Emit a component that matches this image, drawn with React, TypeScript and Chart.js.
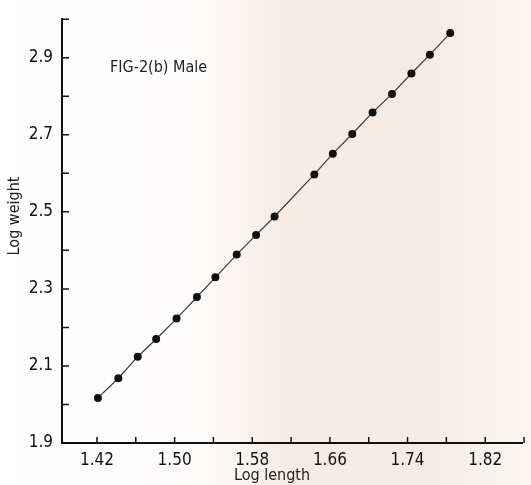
import React, { useEffect, useRef } from "react";
import { Chart, registerables } from "chart.js";

Chart.register(...registerables);

const logLength = [1.421, 1.442, 1.462, 1.481, 1.502, 1.523, 1.542, 1.564, 1.584, 1.603, 1.644, 1.663, 1.683, 1.704, 1.724, 1.744, 1.763, 1.784];
const logWeight = [2.017, 2.068, 2.124, 2.170, 2.223, 2.279, 2.330, 2.389, 2.440, 2.488, 2.597, 2.651, 2.702, 2.758, 2.806, 2.859, 2.908, 2.964];

const xTickValues = [1.42, 1.46, 1.50, 1.54, 1.58, 1.62, 1.66, 1.70, 1.74, 1.78, 1.82, 1.86];
const xTickLabels = ["1.42", "", "1.50", "", "1.58", "", "1.66", "", "1.74", "", "1.82", ""];
const yTickValues = [1.9, 2.0, 2.1, 2.2, 2.3, 2.4, 2.5, 2.6, 2.7, 2.8, 2.9, 3.0];
const yTickLabels = ["1.9", "", "2.1", "", "2.3", "", "2.5", "", "2.7", "", "2.9", ""];

const figureTitle = "FIG-2(b) Male";
const xTitle = "Log length";
const yTitle = "Log weight";

const FONT = "'DejaVu Sans', sans-serif";

const paperPlugin = {
  id: "paper",
  beforeDraw(chart: any) {
    const { ctx, width, height } = chart;
    ctx.save();
    const g = ctx.createLinearGradient(0, 0, width, 0);
    g.addColorStop(0, "#ffffff");
    g.addColorStop(0.38, "#fefcfb");
    g.addColorStop(0.52, "#f7ede5");
    g.addColorStop(0.8, "#f6ebe3");
    g.addColorStop(1, "#fbf6f2");
    ctx.fillStyle = g;
    ctx.fillRect(0, 0, width, height);
    ctx.restore();
  },
  afterDraw(chart: any) {
    const { ctx, chartArea } = chart;
    const xs = chart.scales.x;
    const ys = chart.scales.y;
    ctx.save();
    ctx.strokeStyle = "#111";
    ctx.lineWidth = 1.5;
    ctx.beginPath();
    xTickValues.forEach((v) => {
      const px = xs.getPixelForValue(v);
      ctx.moveTo(px, chartArea.bottom);
      ctx.lineTo(px, chartArea.bottom - 6);
    });
    yTickValues.forEach((v) => {
      const py = ys.getPixelForValue(v);
      ctx.moveTo(chartArea.left, py);
      ctx.lineTo(chartArea.left + 7, py);
    });
    ctx.stroke();

    ctx.fillStyle = "#222";
    ctx.font = `condensed 16px ${FONT}`;
    ctx.textBaseline = "middle";
    ctx.textAlign = "left";
    ctx.fillText(figureTitle, 110, 68);

    ctx.textAlign = "center";
    ctx.fillText(xTitle, 272, 476);

    ctx.translate(15, 216);
    ctx.rotate(-Math.PI / 2);
    ctx.fillText(yTitle, 0, 0);
    ctx.restore();
  },
};

export default function App() {
  const ref = useRef<HTMLCanvasElement>(null);
  useEffect(() => {
    const chart = new Chart(ref.current!, {
      type: "scatter",
      data: {
        datasets: [
          {
            data: logLength.map((x, i) => ({ x, y: logWeight[i] })),
            showLine: true,
            borderColor: "#3a3a3a",
            borderWidth: 1.2,
            pointRadius: 4,
            pointBackgroundColor: "#111",
            pointBorderColor: "#111",
            pointBorderWidth: 0,
          },
        ],
      },
      options: {
        animation: false,
        responsive: false,
        layout: { padding: { top: 12, right: 8, left: 0, bottom: 0 } },
        plugins: { legend: { display: false }, tooltip: { enabled: false } },
        scales: {
          x: {
            type: "linear",
            min: 1.384,
            max: 1.858,
            afterBuildTicks: (s: any) => {
              s.ticks = xTickValues.map((value) => ({ value }));
            },
            afterFit: (s: any) => {
              s.height = 42;
            },
            ticks: {
              autoSkip: false,
              maxRotation: 0,
              padding: 7,
              color: "#111",
              font: { family: FONT, size: 17, weight: "condensed" },
              callback: (_v: any, i: number) => xTickLabels[i],
            },
            grid: { display: true, drawOnChartArea: false, drawTicks: false },
            border: { display: true, color: "#111", width: 2 },
          },
          y: {
            type: "linear",
            min: 1.9,
            max: 3.0,
            afterBuildTicks: (s: any) => {
              s.ticks = yTickValues.map((value) => ({ value }));
            },
            afterFit: (s: any) => {
              s.width = 62;
            },
            ticks: {
              autoSkip: false,
              padding: 9,
              color: "#111",
              font: { family: FONT, size: 17, weight: "condensed" },
              callback: (_v: any, i: number) => yTickLabels[i],
            },
            grid: { display: true, drawOnChartArea: false, drawTicks: false },
            border: { display: true, color: "#111", width: 2 },
          },
        },
      } as any,
      plugins: [paperPlugin],
    });
    return () => chart.destroy();
  }, []);
  return (
    <div style={{ position: "fixed", left: 0, top: 0, width: 531, height: 485 }}>
      <canvas ref={ref} width={531} height={485} style={{ display: "block" }} />
    </div>
  );
}
